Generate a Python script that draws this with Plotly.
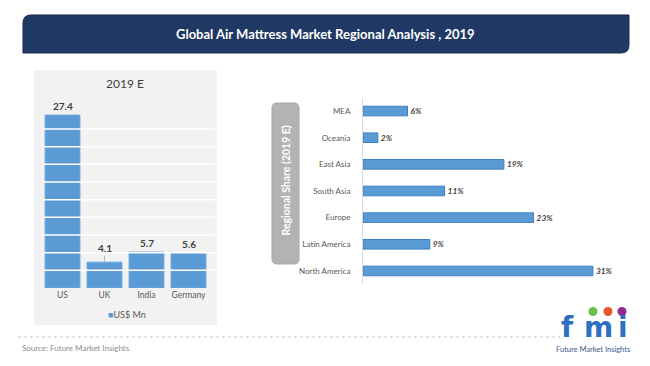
import plotly.graph_objects as go

# ---------------- data ----------------
country_names = ["US", "UK", "India", "Germany"]
country_values = [27.4, 4.1, 5.7, 5.6]

region_names = ["MEA", "Oceania", "East Asia", "South Asia", "Europe", "Latin America", "North America"]
region_shares = [6, 2, 19, 11, 23, 9, 31]

title_text = "Global Air Mattress Market Regional Analysis , 2019"
left_title = "2019 E"
legend_text = "US$ Mn"
box_text = "Regional Share (2019 E)"
source_text = "Source: Future Market Insights"
logo_letters = ["f", "m", "i"]
logo_tagline = "Future Market Insights"

# ---------------- helpers ----------------
W, H = 650, 366
def px(x):
    return x / W
def py(y):
    return 1 - y / H

def path_from(cmds):
    out = []
    for c, pts in cmds:
        s = c
        for (x, y) in pts:
            s += f" {px(x):.5f},{py(y):.5f}"
        out.append(s)
    return " ".join(out) + " Z"

FONT = "Lato, sans-serif"
BLUE = "#5b9bd5"
DARK = "#404040"
GREY_TXT = "#595959"

fig = go.Figure()

# left bar chart
fig.add_trace(go.Bar(
    x=country_names, y=country_values,
    marker=dict(color=BLUE, line=dict(color="#6aa6dc", width=1)),
    width=0.83, xaxis="x", yaxis="y", showlegend=False, hoverinfo="x+y",
))

# right horizontal bar chart
fig.add_trace(go.Bar(
    y=region_names, x=region_shares, orientation="h", width=0.36,
    marker=dict(color=BLUE, line=dict(color="#3f7fbf", width=1)),
    text=[f"{v}%" for v in region_shares], textposition="outside",
    textfont=dict(family=FONT, size=9.5, color=DARK, weight="bold", style="italic"),
    cliponaxis=False, xaxis="x2", yaxis="y2", showlegend=False,
))

shapes = []
annotations = []

# title banner (rounded top-left & bottom-right)
r = 8
bx0, bx1, by0, by1 = 23, 629, 15, 53
shapes.append(dict(
    type="path", xref="paper", yref="paper", layer="below",
    path=path_from([
        ("M", [(bx0 + r, by0)]), ("L", [(bx1, by0)]), ("L", [(bx1, by1 - r)]),
        ("Q", [(bx1, by1), (bx1 - r, by1)]), ("L", [(bx0, by1)]), ("L", [(bx0, by0 + r)]),
        ("Q", [(bx0, by0), (bx0 + r, by0)]),
    ]),
    fillcolor="#203864", line=dict(color="#162a4d", width=1),
))
annotations.append(dict(
    text=f"<b>{title_text}</b>", x=px(326), y=py(34), xref="paper", yref="paper",
    showarrow=False, font=dict(family=FONT, size=13, color="white"),
    xanchor="center", yanchor="middle",
))

# left panel background
shapes.append(dict(type="rect", xref="paper", yref="paper", layer="below",
                   x0=px(34), x1=px(217), y0=py(325), y1=py(70),
                   fillcolor="#f2f2f2", line=dict(width=0)))

# white gridlines over the bars
GRID_STEP = 2.8
for k in range(1, 10):
    shapes.append(dict(type="line", xref="paper", yref="y", layer="above",
                       x0=px(44), x1=px(215), y0=k * GRID_STEP, y1=k * GRID_STEP,
                       line=dict(color="white", width=1.5)))

annotations.append(dict(
    text=left_title, x=px(125), y=py(83), xref="paper", yref="paper", showarrow=False,
    font=dict(family=FONT, size=12, color=DARK), xanchor="center", yanchor="middle",
))

# value labels on left bars
for name, val in zip(country_names, country_values):
    if name == "UK":
        annotations.append(dict(
            text=f"<b>{val}</b>", x=name, y=val, xref="x", yref="y",
            showarrow=True, arrowhead=0, arrowwidth=0.8, arrowcolor="#a6a6a6",
            ax=0, ay=-14, standoff=0, startstandoff=0,
            font=dict(family=FONT, size=10, color=DARK),
        ))
    else:
        annotations.append(dict(
            text=f"<b>{val}</b>", x=name, y=val, xref="x", yref="y",
            showarrow=False, yanchor="bottom", yshift=1,
            font=dict(family=FONT, size=10, color=DARK),
        ))

# legend-like label
annotations.append(dict(
    text=f"<span style='color:{BLUE}'>■</span>{legend_text}", x=px(127), y=py(314),
    xref="paper", yref="paper", showarrow=False,
    font=dict(family=FONT, size=9, color=GREY_TXT), xanchor="center", yanchor="middle",
))

# grey rounded box with rotated text
gx0, gx1, gy0, gy1, gr = 272, 299, 103, 264, 5
shapes.append(dict(
    type="path", xref="paper", yref="paper", layer="below",
    path=path_from([
        ("M", [(gx0 + gr, gy0)]), ("L", [(gx1 - gr, gy0)]), ("Q", [(gx1, gy0), (gx1, gy0 + gr)]),
        ("L", [(gx1, gy1 - gr)]), ("Q", [(gx1, gy1), (gx1 - gr, gy1)]),
        ("L", [(gx0 + gr, gy1)]), ("Q", [(gx0, gy1), (gx0, gy1 - gr)]),
        ("L", [(gx0, gy0 + gr)]), ("Q", [(gx0, gy0), (gx0 + gr, gy0)]),
    ]),
    fillcolor="#b3b3b3", line=dict(color="#a8a8a8", width=1),
))
annotations.append(dict(
    text=f"<b>{box_text}</b>", x=px(285.5), y=py(181), xref="paper", yref="paper",
    showarrow=False, textangle=-90, font=dict(family=FONT, size=10.5, color="white"),
    xanchor="center", yanchor="middle",
))

# dotted separator and source
shapes.append(dict(type="line", xref="paper", yref="paper", x0=px(18), x1=px(560),
                   y0=py(337), y1=py(337), line=dict(color="#c8c8c8", width=1, dash="dot")))
annotations.append(dict(
    text=source_text, x=px(20), y=py(348), xref="paper", yref="paper", showarrow=False,
    font=dict(family=FONT, size=8, color="#8c8c8c"), xanchor="left", yanchor="middle",
))

# logo
for letter, lx in zip(logo_letters, [567, 598, 623]):
    annotations.append(dict(
        text=f"<b>{letter}</b>", x=px(lx), y=py(327), xref="paper", yref="paper",
        showarrow=False, font=dict(family="DejaVu Sans", size=28, color="#2f6fbf"),
        xanchor="center", yanchor="middle",
    ))
for cx, col in [(593, "#6cc04a"), (608, "#e8542c"), (622, "#8e2b8e")]:
    shapes.append(dict(type="circle", xref="paper", yref="paper",
                       x0=px(cx - 4.5), x1=px(cx + 4.5), y0=py(316), y1=py(307),
                       fillcolor=col, line=dict(width=0)))
annotations.append(dict(
    text=logo_tagline, x=px(593), y=py(349), xref="paper", yref="paper",
    showarrow=False, font=dict(family=FONT, size=7.5, color="#3a5a8a"),
    xanchor="center", yanchor="middle",
))

fig.update_layout(
    width=W, height=H, autosize=False,
    margin=dict(l=0, r=0, t=0, b=0),
    paper_bgcolor="white", plot_bgcolor="rgba(0,0,0,0)",
    font=dict(family=FONT, color=GREY_TXT),
    bargap=0.17,
    xaxis=dict(domain=[px(41.5), px(209.5)], showgrid=False, zeroline=False,
               showline=False, ticks="", tickfont=dict(size=8.5, color=GREY_TXT),
               anchor="y", fixedrange=True),
    yaxis=dict(domain=[py(288), py(111.3)], range=[0, 28], showgrid=False,
               zeroline=False, showticklabels=False, anchor="x", fixedrange=True),
    xaxis2=dict(domain=[px(363), px(630)], range=[0, 36], visible=False,
                anchor="y2", fixedrange=True),
    yaxis2=dict(domain=[py(284.3), py(97.7)], autorange="reversed", showgrid=False,
                zeroline=False, showline=True, linecolor="#d9d9d9", linewidth=1,
                ticks="", ticklabelstandoff=10,
                tickfont=dict(size=8, color=GREY_TXT),
                anchor="x2", fixedrange=True),
    shapes=shapes, annotations=annotations,
)

fig.write_html("out.html", config={"displayModeBar": False},
               post_script="document.body.style.margin='0';document.body.style.padding='0';")
